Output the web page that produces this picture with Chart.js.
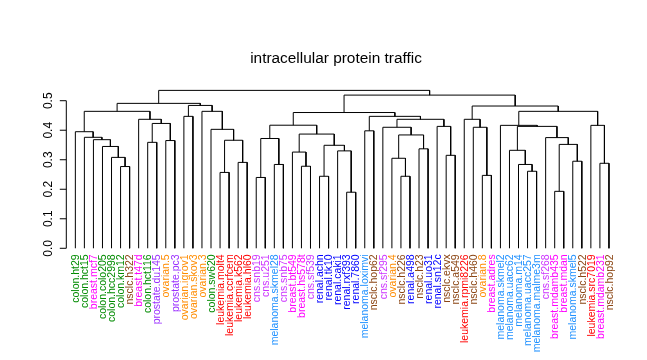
<!DOCTYPE html>
<html>
<head>
<meta charset="utf-8">
<script src="https://cdn.jsdelivr.net/npm/chart.js@4.4.1/dist/chart.umd.min.js"></script>
<style>
html,body{margin:0;padding:0;background:#fff;}
#wrap{width:647px;height:360px;position:relative;}
</style>
</head>
<body>
<div id="wrap"><canvas id="c" width="647" height="360"></canvas></div>
<script>
// Leaf labels in dendrogram order
const leafLabels = [
  "colon.ht29","colon.hct15","breast.mcf7","colon.colo205","colon.hcc2998","colon.km12",
  "nsclc.h322","breast.t47d","colon.hct116","prostate.du145","ovarian.5","prostate.pc3",
  "ovarian.igrov1","ovarian.skov3","ovarian.3","colon.sw620","leukemia.molt4","leukemia.ccrfcem",
  "leukemia.k562","leukemia.hl60","cns.snb19","cns.u251","melanoma.skmel28","cns.snb75",
  "breast.bt549","breast.hs578t","cns.sf539","renal.achn","renal.tk10","renal.caki1",
  "renal.rxf393","renal.7860","melanoma.loximvi","nsclc.hop62","cns.sf295","ovarian.4",
  "nsclc.h226","renal.a498","nsclc.h23","renal.uo31","renal.sn12c","nsclc.ekvx",
  "nsclc.a549","leukemia.rpmi8226","nsclc.h460","ovarian.8","breast.adres","melanoma.skmel2",
  "melanoma.uacc62","melanoma.m14","melanoma.uacc257","melanoma.malme3m","cns.sf268","breast.mdamb435",
  "breast.mdan","melanoma.skmel5","nsclc.h522","leukemia.src7019","breast.mdamb231","nsclc.hop92"
];

// Merge table (hclust style): negative = leaf position (1-based), positive = earlier merge (1-based)
const mergeLeft  = [-6, -5, -4, -3, -2, -1, -9, -11, 7, -8, 6, -13, -17, -19, 13, -16, -15, 12, 11,
                    -21, -23, 20, -26, -25, -28, -31, -30, 25, 24, 22, -33, -37, -36, -39, 33, -35, -42, -41, 36, 31, 30,
                    -46, -45, -44, -51, -50, -49, -54, -56, 48, -53, 47, -48, -59, -58, 53, 44, 41, 19];
const mergeRight = [-7, 1, 2, 3, 4, 5, -10, -12, 8, 9, 10, -14, -18, -20, 14, 15, 16, 17, 18,
                    -22, -24, 21, -27, 23, -29, -32, 26, 27, 28, 29, -34, -38, 32, -40, 34, 35, -43, 37, 38, 39, 40,
                    -47, 42, 43, -52, 45, 46, -55, -57, 49, 50, 51, 52, -60, 54, 55, 56, 57, 58];
const mergeHeight = [0.277, 0.308, 0.345, 0.368, 0.376, 0.395, 0.359, 0.365, 0.423, 0.437, 0.464, 0.447, 0.257, 0.291, 0.366, 0.403, 0.464, 0.484, 0.491,
                     0.240, 0.284, 0.372, 0.278, 0.326, 0.244, 0.190, 0.330, 0.349, 0.387, 0.417, 0.398, 0.244, 0.305, 0.337, 0.384, 0.410, 0.315, 0.413, 0.437, 0.447, 0.460,
                     0.247, 0.410, 0.437, 0.261, 0.284, 0.332, 0.193, 0.295, 0.352, 0.375, 0.413, 0.4165, 0.288, 0.4165, 0.464, 0.482, 0.519, 0.535];

const yTicks = [0.0, 0.1, 0.2, 0.3, 0.4, 0.5];
const titleText = "intracellular protein traffic";

const tissueColors = {
  colon: "#008B00", breast: "#FF00FF", nsclc: "#8B4513", prostate: "#9B30FF",
  ovarian: "#FF8C00", leukemia: "#FF0000", cns: "#CC33FF", melanoma: "#1E90FF", renal: "#0000FF"
};

// Build node positions
const nodeX = [], nodeH = [];
function childPos(id){
  if (id < 0) return {x: -id, h: 0};
  return {x: nodeX[id-1], h: nodeH[id-1]};
}
const datasets = [];
for (let i = 0; i < mergeLeft.length; i++){
  const a = childPos(mergeLeft[i]), b = childPos(mergeRight[i]);
  const h = mergeHeight[i];
  nodeX.push((a.x + b.x) / 2); nodeH.push(h);
  datasets.push({
    data: [{x:a.x, y:a.h}, {x:a.x, y:h}, {x:b.x, y:h}, {x:b.x, y:b.h}],
    showLine: true, borderColor: "#000", borderWidth: 1, pointRadius: 0, fill: false, tension: 0
  });
}

const decor = {
  id: "decor",
  afterDraw(chart){
    const ctx = chart.ctx, xs = chart.scales.x, ys = chart.scales.y;
    const ax = chart.chartArea.left;
    ctx.save();
    // y axis
    ctx.strokeStyle = "#000"; ctx.lineWidth = 1;
    ctx.beginPath();
    ctx.moveTo(ax, ys.getPixelForValue(yTicks[0]));
    ctx.lineTo(ax, ys.getPixelForValue(yTicks[yTicks.length-1]));
    yTicks.forEach(t => { const py = ys.getPixelForValue(t); ctx.moveTo(ax, py); ctx.lineTo(ax - 6.5, py); });
    ctx.stroke();
    ctx.fillStyle = "#000";
    ctx.font = "12px 'Liberation Sans', Arial, sans-serif";
    ctx.textAlign = "center"; ctx.textBaseline = "middle";
    yTicks.forEach(t => {
      const py = ys.getPixelForValue(t);
      ctx.save(); ctx.translate(ax - 17.5, py); ctx.rotate(-Math.PI/2);
      ctx.fillText(t.toFixed(1), 0, 0); ctx.restore();
    });
    // leaf labels
    ctx.font = "10.5px 'Liberation Sans', Arial, sans-serif";
    ctx.textAlign = "right"; ctx.textBaseline = "middle";
    const ly = ys.getPixelForValue(0) + 6;
    leafLabels.forEach((lab, i) => {
      const px = xs.getPixelForValue(i + 1);
      ctx.save(); ctx.translate(px + 0.8, ly); ctx.rotate(-Math.PI/2);
      ctx.fillStyle = tissueColors[lab.split(".")[0]] || "#000";
      ctx.fillText(lab, 0, 0); ctx.restore();
    });
    // title
    ctx.fillStyle = "#000";
    ctx.font = "15.4px 'Liberation Sans', Arial, sans-serif";
    ctx.textAlign = "center"; ctx.textBaseline = "alphabetic";
    ctx.fillText(titleText, 336, 62.5);
    ctx.restore();
  }
};

new Chart(document.getElementById("c"), {
  type: "scatter",
  data: { datasets },
  options: {
    responsive: false, animation: false, devicePixelRatio: 1,
    layout: { padding: { left: 66.3, right: 29, top: 83, bottom: 105.8 } },
    plugins: { legend: { display: false }, tooltip: { enabled: false }, title: { display: false } },
    scales: {
      x: { type: "linear", min: 0, max: 61, display: false },
      y: { type: "linear", min: -0.02, max: 0.56, display: false }
    }
  },
  plugins: [decor]
});
</script>
</body>
</html>
